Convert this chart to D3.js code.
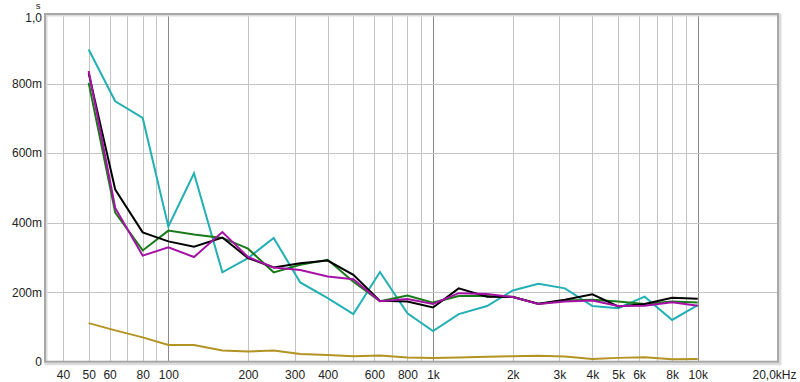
<!DOCTYPE html>
<html><head><meta charset="utf-8">
<script src="https://cdn.jsdelivr.net/npm/d3@7"></script>
<style>body{margin:0;background:#fff;}svg{display:block;font-family:"Liberation Sans",Arial,sans-serif;}</style>
</head><body><svg id="c" width="800" height="382"></svg>
<script>
const freqs = [50,63,80,100,125,160,200,250,315,400,500,630,800,1000,1250,1600,2000,2500,3150,4000,5000,6300,8000,10000];
const cyan    = [0.898,0.749,0.701,0.389,0.542,0.257,0.298,0.356,0.228,0.183,0.137,0.258,0.139,0.088,0.137,0.160,0.205,0.224,0.211,0.160,0.154,0.187,0.120,0.163];
const black   = [0.830,0.495,0.372,0.346,0.331,0.357,0.298,0.271,0.283,0.291,0.250,0.175,0.173,0.156,0.211,0.187,0.186,0.167,0.178,0.194,0.159,0.166,0.184,0.181];
const green   = [0.802,0.429,0.320,0.377,0.366,0.356,0.325,0.257,0.279,0.293,0.230,0.174,0.190,0.170,0.189,0.189,0.187,0.166,0.176,0.178,0.173,0.166,0.173,0.170];
const magenta = [0.836,0.442,0.305,0.329,0.301,0.373,0.301,0.271,0.264,0.245,0.237,0.174,0.180,0.166,0.197,0.195,0.186,0.166,0.173,0.176,0.160,0.161,0.171,0.161];
const gold    = [0.111,0.090,0.070,0.048,0.048,0.032,0.029,0.032,0.022,0.019,0.016,0.018,0.012,0.011,0.012,0.014,0.016,0.017,0.015,0.008,0.011,0.013,0.007,0.008];
const xTickVals = [40,50,60,80,100,200,300,400,600,800,1000,2000,3000,4000,5000,6000,8000,10000,20000];
const xTickLabels = ["40","50","60","80","100","200","300","400","600","800","1k","2k","3k","4k","5k","6k","8k","10k","20,0kHz"];
const yTickVals = [0,0.2,0.4,0.6,0.8,1.0];
const yTickLabels = ["0","200m","400m","600m","800m","1,0"];
const series = [
  {v: gold, c: "#b39322"},
  {v: cyan, c: "#22b0b4"},
  {v: green, c: "#197a19"},
  {v: black, c: "#000000"},
  {v: magenta, c: "#a511a5"}
];

const L = 45, R = 778, T = 14, B = 361.7;
const svg = d3.select("#c");
const x = d3.scaleLog().domain([34.2, 20100]).range([L, R]);
const y = d3.scaleLinear().domain([0, 1]).range([B, T]);

// grid
const gridF = [];
[10,100,1000].forEach(d => { for (let k=1;k<10;k++){ const f=d*k; if (f>=40 && f<=10000) gridF.push(f);} });
gridF.push(10000);
const g = svg.append("g");
g.selectAll("line.v").data(gridF).enter().append("line")
  .attr("x1", d => Math.round(x(d))+0.5).attr("x2", d => Math.round(x(d))+0.5)
  .attr("y1", T).attr("y2", B)
  .attr("stroke", d => (d===100||d===1000||d===10000) ? "#8a8a8a" : "#c4c4c4")
  .attr("stroke-width", 1);
g.selectAll("line.h").data([0.2,0.4,0.6,0.8]).enter().append("line")
  .attr("x1", L).attr("x2", R)
  .attr("y1", d => Math.round(y(d))+0.5).attr("y2", d => Math.round(y(d))+0.5)
  .attr("stroke", "#c4c4c4").attr("stroke-width", 1);

// frame with shadow
svg.append("rect").attr("x", L+1).attr("y", T+1).attr("width", R-L+1).attr("height", B-T+1)
  .attr("fill", "none").attr("stroke", "#dcdcdc").attr("stroke-width", 3);
svg.append("rect").attr("x", L).attr("y", T).attr("width", R-L).attr("height", B-T)
  .attr("fill", "none").attr("stroke", "#a8a8a8").attr("stroke-width", 2);

// lines
const line = d3.line().x((d,i) => x(freqs[i])).y(d => y(d));
svg.selectAll("path.s").data(series).enter().append("path")
  .attr("d", d => line(d.v)).attr("fill", "none")
  .attr("stroke", d => d.c).attr("stroke-width", 2).attr("stroke-linejoin", "miter");

// axes labels
const xa = d3.axisBottom(x).tickValues(xTickVals).tickFormat((d,i) => xTickLabels[i]).tickSize(0).tickPadding(0);
const xg = svg.append("g").attr("transform", `translate(0,${B+9})`).call(xa);
xg.select(".domain").remove();
xg.selectAll("text").attr("fill", "#222").attr("font-size", "12px").attr("dy", "0.71em");
xg.selectAll("text").filter((d,i) => i === xTickVals.length-1).attr("text-anchor", "end").attr("x", 796 - x(20000));

const ya = d3.axisLeft(y).tickValues(yTickVals).tickFormat((d,i) => yTickLabels[i]).tickSize(0).tickPadding(0);
const yg = svg.append("g").attr("transform", `translate(${L-3},0)`).call(ya);
yg.select(".domain").remove();
yg.selectAll("text").attr("fill", "#222").attr("font-size", "12px").attr("dy", "0.32em");
yg.selectAll("text").filter((d,i) => i === yTickVals.length-1).attr("dy", "7.8");
svg.append("text").attr("x", 38).attr("y", 8.7).attr("text-anchor", "middle").attr("font-size", "9.5px").attr("fill", "#222").text("s");
</script></body></html>
